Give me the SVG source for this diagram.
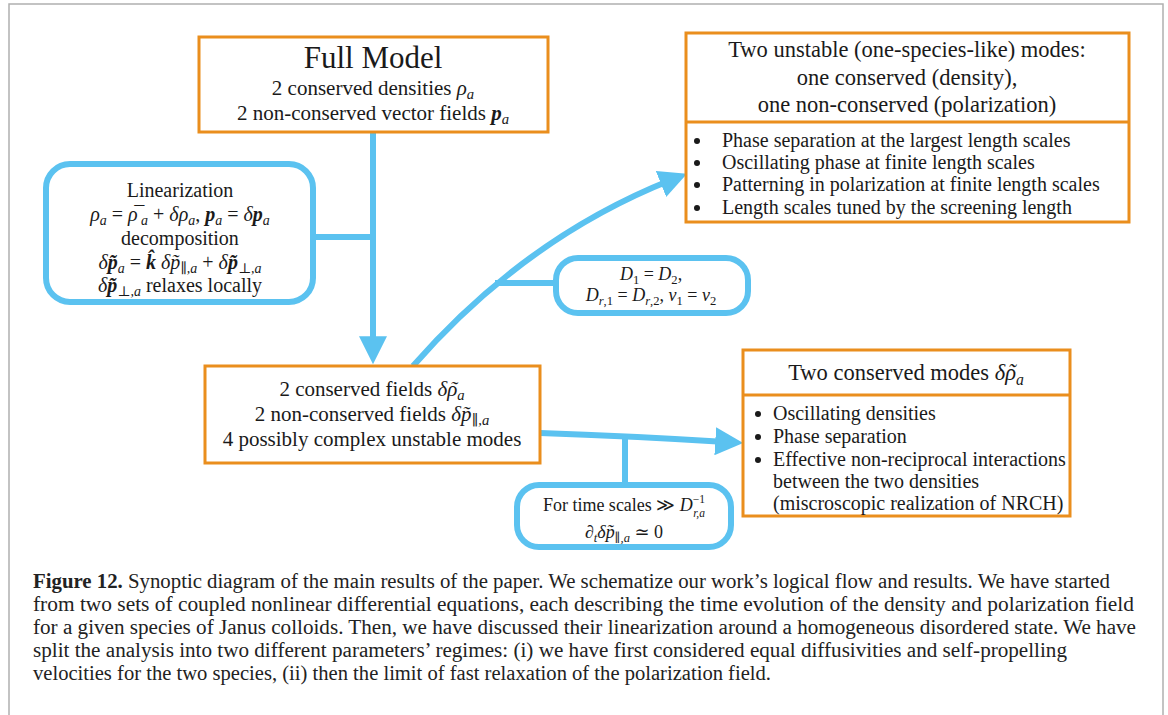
<svg xmlns="http://www.w3.org/2000/svg" width="1168" height="715" viewBox="0 0 1168 715">
<style>
.ob{fill:#fff;stroke:#EA8E1D;stroke-width:3}
.bb{fill:#fff;stroke:#5BC2F0;stroke-width:6}
.ln{fill:none;stroke:#5BC2F0;stroke-width:6}
.t{font-family:'Liberation Serif','DejaVu Serif',serif;fill:#1a1a1a}
.c{text-anchor:middle}
.i{font-style:italic}
.b{font-style:italic;font-weight:bold}
.s{font-size:70%}
.ss{font-size:64%}
.cap{font-family:'Liberation Serif','DejaVu Serif',serif;fill:#222;font-size:20px}
</style>
<defs>
<marker id="ah" markerUnits="userSpaceOnUse" markerWidth="28" markerHeight="28" viewBox="0 0 26 26" refX="10" refY="13" orient="auto">
<path d="M0,0 L26,13 L0,26 z" fill="#5BC2F0"/>
</marker>
</defs>
<rect x="0" y="0" width="1168" height="715" fill="#fff"/>
<path d="M9,715 V4 H1163 V715" fill="none" stroke="#b0b0b0" stroke-width="1.5"/>

<g id="connectors">
<path class="ln" d="M373,132 V347" marker-end="url(#ah)"/>
<path class="ln" d="M313,237 H373"/>
<path class="ln" d="M413,366 Q525,238 671,180" marker-end="url(#ah)"/>
<path class="ln" d="M495,283 H556"/>
<path class="ln" d="M540,433 Q630,436 726,442" marker-end="url(#ah)"/>
<path class="ln" d="M625,437 V485"/>
</g>

<g id="full-model">
<rect class="ob" x="199" y="37" width="349" height="95"/>
<text class="t c" x="373" y="68" font-size="31">Full Model</text>
<text class="t c" x="373" y="95" font-size="21">2 conserved densities <tspan class="i">ρ</tspan><tspan class="i s" dy="4">a</tspan></text>
<text class="t c" x="373" y="120" font-size="21">2 non-conserved vector fields <tspan class="b">p</tspan><tspan class="i s" dy="4">a</tspan></text>
</g>

<g id="linearization">
<rect class="bb" x="46" y="164" width="267" height="138" rx="24"/>
<text class="t c" x="180" y="197" font-size="20">Linearization</text>
<text class="t c" x="180" y="221" font-size="20"><tspan class="i">ρ</tspan><tspan class="i s" dy="4">a</tspan><tspan dy="-4"> = </tspan><tspan class="i">ρ</tspan><tspan class="i" dx="-5">¯</tspan><tspan class="i s" dx="-1.6" dy="4">a</tspan><tspan dy="-4"> + </tspan><tspan class="i">δρ</tspan><tspan class="i s" dy="4">a</tspan><tspan dy="-4">, </tspan><tspan class="b">p</tspan><tspan class="i s" dy="4">a</tspan><tspan dy="-4"> = </tspan><tspan class="i">δ</tspan><tspan class="b">p</tspan><tspan class="i s" dy="4">a</tspan></text>
<text class="t c" x="180" y="245" font-size="20">decomposition</text>
<text class="t c" x="180" y="269" font-size="20"><tspan class="i">δ</tspan><tspan class="b">p̃</tspan><tspan class="i s" dy="4">a</tspan><tspan dy="-4"> = </tspan><tspan class="b">k̂</tspan><tspan> </tspan><tspan class="i">δp̃</tspan><tspan class="i s" dy="4">∥,a</tspan><tspan dy="-4"> + </tspan><tspan class="i">δ</tspan><tspan class="b">p̃</tspan><tspan class="i s" dy="4">⊥,a</tspan></text>
<text class="t c" x="180" y="292" font-size="20"><tspan class="i">δ</tspan><tspan class="b">p̃</tspan><tspan class="i s" dy="4">⊥,a</tspan><tspan dy="-4"> relaxes locally</tspan></text>
</g>

<g id="one-species-modes">
<rect class="ob" x="686" y="33" width="443" height="189"/>
<line x1="686" y1="122" x2="1129" y2="122" stroke="#EA8E1D" stroke-width="3"/>
<text class="t c" x="907" y="57" font-size="22.5">Two unstable (one-species-like) modes:</text>
<text class="t c" x="907" y="85" font-size="22.5">one conserved (density),</text>
<text class="t c" x="907" y="112" font-size="22.5">one non-conserved (polarization)</text>
<g class="t" font-size="20">
<circle cx="697" cy="141" r="3" fill="#1a1a1a"/>
<text x="722" y="147">Phase separation at the largest length scales</text>
<circle cx="697" cy="163" r="3" fill="#1a1a1a"/>
<text x="722" y="169">Oscillating phase at finite length scales</text>
<circle cx="697" cy="185" r="3" fill="#1a1a1a"/>
<text x="722" y="191">Patterning in polarization at finite length scales</text>
<circle cx="697" cy="208" r="3" fill="#1a1a1a"/>
<text x="722" y="214">Length scales tuned by the screening length</text>
</g>
</g>

<g id="equal-params">
<rect class="bb" x="556" y="258" width="192" height="55" rx="22"/>
<text class="t c" x="651" y="280" font-size="18"><tspan class="i">D</tspan><tspan class="s" dy="4">1</tspan><tspan dy="-4"> = </tspan><tspan class="i">D</tspan><tspan class="s" dy="4">2</tspan><tspan dy="-4">,</tspan></text>
<text class="t c" x="651" y="301" font-size="18"><tspan class="i">D</tspan><tspan class="i s" dy="4">r</tspan><tspan class="s">,1</tspan><tspan dy="-4"> = </tspan><tspan class="i">D</tspan><tspan class="i s" dy="4">r</tspan><tspan class="s">,2</tspan><tspan dy="-4">,  </tspan><tspan class="i">v</tspan><tspan class="s" dy="4">1</tspan><tspan dy="-4"> = </tspan><tspan class="i">v</tspan><tspan class="s" dy="4">2</tspan></text>
</g>

<g id="linear-fields">
<rect class="ob" x="205" y="366" width="335" height="97"/>
<text class="t c" x="372" y="396" font-size="21">2 conserved fields <tspan class="i">δρ</tspan><tspan class="i" dx="-7.25">˜</tspan><tspan class="i s" dx="0.25" dy="4">a</tspan></text>
<text class="t c" x="372" y="421" font-size="21">2 non-conserved fields <tspan class="i">δp̃</tspan><tspan class="i s" dy="4">∥,a</tspan></text>
<text class="t c" x="372" y="446" font-size="21">4 possibly complex unstable modes</text>
</g>

<g id="conserved-modes">
<rect class="ob" x="743" y="350" width="327" height="166"/>
<line x1="743" y1="395" x2="1070" y2="395" stroke="#EA8E1D" stroke-width="3"/>
<text class="t c" x="906" y="380" font-size="22.5">Two conserved modes <tspan class="i">δρ</tspan><tspan class="i" dx="-7.85">˜</tspan><tspan class="i s" dx="0.35" dy="5">a</tspan></text>
<g class="t" font-size="20">
<circle cx="758" cy="414" r="3" fill="#1a1a1a"/>
<text x="773" y="420">Oscillating densities</text>
<circle cx="758" cy="437" r="3" fill="#1a1a1a"/>
<text x="773" y="443">Phase separation</text>
<circle cx="758" cy="460" r="3" fill="#1a1a1a"/>
<text x="773" y="466">Effective non-reciprocal interactions</text>
<text x="773" y="488">between the two densities</text>
<text x="773" y="510">(miscroscopic realization of NRCH)</text>
</g>
</g>

<g id="fast-relaxation">
<rect class="bb" x="517" y="485" width="214" height="62" rx="22"/>
<text class="t c" x="624" y="511" font-size="18">For time scales ≫ <tspan class="i">D</tspan><tspan class="ss" dy="-8">−1</tspan><tspan class="i ss" dx="-12" dy="14">r,a</tspan></text>
<text class="t c" x="624" y="538" font-size="18"><tspan class="i">∂</tspan><tspan class="i s" dy="4">t</tspan><tspan class="i" dy="-4">δp̃</tspan><tspan class="i s" dy="4">∥,a</tspan><tspan dy="-4"> ≃ 0</tspan></text>
</g>

<g id="caption">
<text class="cap" x="33" y="588" textLength="1077" lengthAdjust="spacingAndGlyphs"><tspan font-weight="bold">Figure 12.</tspan> Synoptic diagram of the main results of the paper. We schematize our work’s logical flow and results. We have started</text>
<text class="cap" x="33" y="611" textLength="1101" lengthAdjust="spacingAndGlyphs">from two sets of coupled nonlinear differential equations, each describing the time evolution of the density and polarization field</text>
<text class="cap" x="33" y="634" textLength="1103" lengthAdjust="spacingAndGlyphs">for a given species of Janus colloids. Then, we have discussed their linearization around a homogeneous disordered state. We have</text>
<text class="cap" x="33" y="657" textLength="1034" lengthAdjust="spacingAndGlyphs">split the analysis into two different parameters’ regimes: (i) we have first considered equal diffusivities and self-propelling</text>
<text class="cap" x="33" y="680" textLength="738" lengthAdjust="spacingAndGlyphs">velocities for the two species, (ii) then the limit of fast relaxation of the polarization field.</text>
</g>
</svg>
